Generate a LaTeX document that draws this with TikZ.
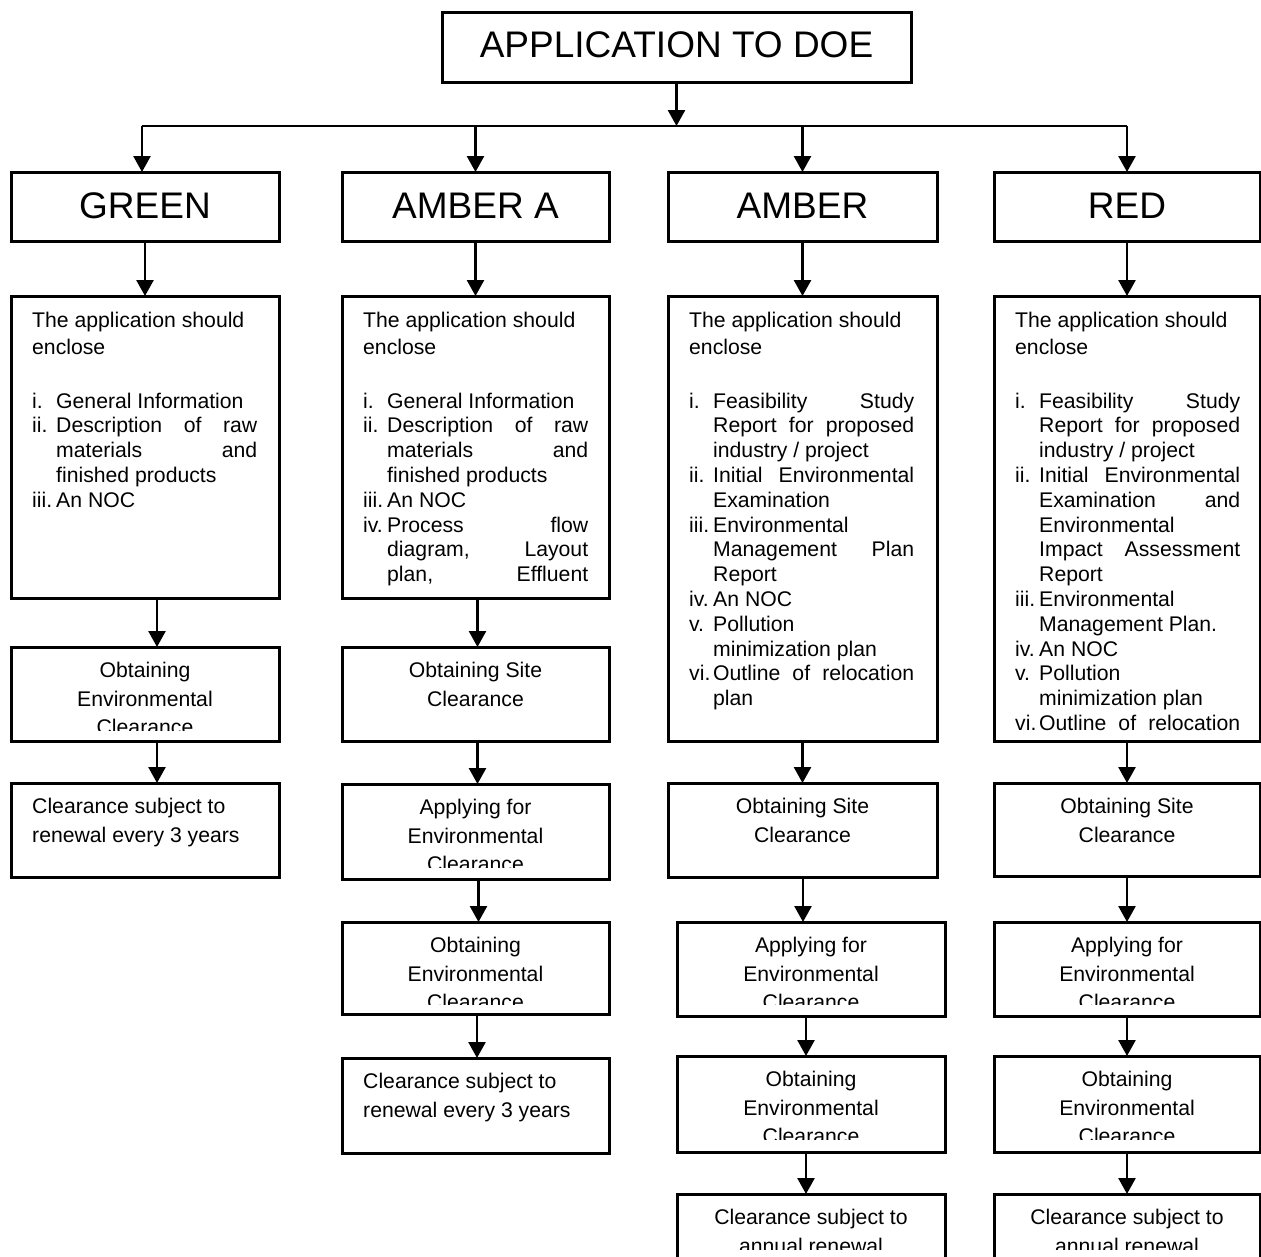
\documentclass[tikz,border=0pt]{standalone}
\usepackage{fontspec}
\setmainfont{Liberation Sans}
\usetikzlibrary{arrows.meta}
\newcommand\sm{\fontsize{21.2}{24.8}\selectfont}
\newcommand\bg{\fontsize{37}{42}\selectfont}
\newcommand\jl[1]{\makebox[201pt][s]{#1}}
\tikzset{
  boxst/.style={draw, line width=3pt, inner sep=0pt, outer sep=0pt},
  arr/.style={line width=2.6pt, -{Triangle[length=16pt,width=17pt]}},
  ln/.style={line width=2.6pt},
  tx/.style={inner sep=0pt, anchor=base west, font=\sm},
  txc/.style={inner sep=0pt, anchor=base, font=\sm},
  big/.style={inner sep=0pt, anchor=base, font=\bg},
}
% box: name, x1, y1, x2, y2
\newcommand\bx[5]{%
  \pgfmathsetmacro\bw{#4-#2}\pgfmathsetmacro\bh{#5-#3}%
  \node[boxst, minimum width=\bw pt, minimum height=\bh pt, anchor=north west] (#1) at (#2,#3) {};}
% list header: prefix, box x1
\newcommand\hd[2]{%
  \node[tx] (#1h1) at (#2+21,327) {The application should};
  \node[tx] (#1h2) at (#2+21,354) {enclose};}
% item with label: name, box x1, line index, label, text
\newcommand\itm[5]{%
  \node[tx] (#1a) at (#2+21,408+#3*24.8) {#4};
  \node[tx] (#1b) at (#2+45,408+#3*24.8) {#5};}
% continuation line: name, box x1, line index, text
\newcommand\cnt[4]{%
  \node[tx] (#1) at (#2+45,408+#3*24.8) {#4};}
% centred lines: name, cx, y1, l1, l2, l3
\newcommand\cthree[6]{%
  \node[txc] (#1t1) at (#2,#3+30.5) {#4};
  \node[txc] (#1t2) at (#2,#3+59) {#5};
  \node[txc] (#1t3) at (#2,#3+87.5) {#6};}
\newcommand\ctwo[5]{%
  \node[txc] (#1t1) at (#2,#3+30.5) {#4};
  \node[txc] (#1t2) at (#2,#3+59) {#5};}
\newcommand\ltwo[5]{%
  \node[tx] (#1t1) at (#2,#3+30.5) {#4};
  \node[tx] (#1t2) at (#2,#3+59) {#5};}
\begin{document}
\begin{tikzpicture}[x=1pt,y=-1pt]
\useasboundingbox (0,0) rectangle (1261,1256);
\clip (0,0) rectangle (1261,1256);
\fill[white] (0,0) rectangle (1261,1256);

% top
\bx{top}{442}{12}{911}{82}
\node[big] (topt) at (676.5,57) {APPLICATION TO DOE};

% row 1
\bx{green}{11}{172}{279}{241}
\node[big] (greent) at (145,218) {GREEN};
\bx{ambera}{342}{172}{609}{241}
\node[big] (amberat) at (475.5,218) {AMBER A};
\bx{amber}{668}{172}{937}{241}
\node[big] (ambert) at (802.5,218) {AMBER};
\bx{red}{994}{172}{1260}{241}
\node[big] (redt) at (1127,218) {RED};

\coordinate (hL) at (142,126);
\coordinate (hR) at (1127,126);
\draw[ln] (hL) -- (hR);
\draw[arr] (top.south) -- (top.south |- hL);
\draw[arr] (hL) -- (hL |- green.north);
\draw[arr] (ambera.north |- hL) -- (ambera.north);
\draw[arr] (amber.north |- hL) -- (amber.north);
\draw[arr] (hR) -- (red.north);

% list boxes
\bx{gl}{11}{296}{279}{598}
\bx{al}{342}{296}{609}{598}
\bx{ml}{668}{296}{937}{741}
\bx{rl}{994}{296}{1260}{741}
\draw[arr] (green.south) -- (gl.north);
\draw[arr] (ambera.south) -- (al.north);
\draw[arr] (amber.south) -- (ml.north);
\draw[arr] (red.south) -- (rl.north);

% GREEN list
\begin{scope}
\clip (11,296) rectangle (279,588);
\hd{g}{11}
\itm{g0}{11}{0}{i.}{General Information}
\itm{g1}{11}{1}{ii.}{\jl{Description of raw}}
\cnt{g2}{11}{2}{\jl{materials and}}
\cnt{g3}{11}{3}{finished products}
\itm{g4}{11}{4}{iii.}{An NOC}
\end{scope}

% AMBER A list
\begin{scope}
\clip (342,296) rectangle (609,588);
\hd{a}{342}
\itm{a0}{342}{0}{i.}{General Information}
\itm{a1}{342}{1}{ii.}{\jl{Description of raw}}
\cnt{a2}{342}{2}{\jl{materials and}}
\cnt{a3}{342}{3}{finished products}
\itm{a4}{342}{4}{iii.}{An NOC}
\itm{a5}{342}{5}{iv.}{\jl{Process flow}}
\cnt{a6}{342}{6}{\jl{diagram, Layout}}
\cnt{a7}{342}{7}{\jl{plan, Effluent}}
\end{scope}

% AMBER list
\begin{scope}
\clip (668,296) rectangle (937,731);
\hd{m}{668}
\itm{m0}{668}{0}{i.}{\jl{Feasibility Study}}
\cnt{m1}{668}{1}{\jl{Report for proposed}}
\cnt{m2}{668}{2}{industry / project}
\itm{m3}{668}{3}{ii.}{\jl{Initial Environmental}}
\cnt{m4}{668}{4}{Examination}
\itm{m5}{668}{5}{iii.}{Environmental}
\cnt{m6}{668}{6}{\jl{Management Plan}}
\cnt{m7}{668}{7}{Report}
\itm{m8}{668}{8}{iv.}{An NOC}
\itm{m9}{668}{9}{v.}{Pollution}
\cnt{m10}{668}{10}{minimization plan}
\itm{m11}{668}{11}{vi.}{\jl{Outline of relocation}}
\cnt{m12}{668}{12}{plan}
\end{scope}

% RED list
\begin{scope}
\clip (994,296) rectangle (1260,733);
\hd{r}{994}
\itm{r0}{994}{0}{i.}{\jl{Feasibility Study}}
\cnt{r1}{994}{1}{\jl{Report for proposed}}
\cnt{r2}{994}{2}{industry / project}
\itm{r3}{994}{3}{ii.}{\jl{Initial Environmental}}
\cnt{r4}{994}{4}{\jl{Examination and}}
\cnt{r5}{994}{5}{Environmental}
\cnt{r6}{994}{6}{\jl{Impact Assessment}}
\cnt{r7}{994}{7}{Report}
\itm{r8}{994}{8}{iii.}{Environmental}
\cnt{r9}{994}{9}{Management Plan.}
\itm{r10}{994}{10}{iv.}{An NOC}
\itm{r11}{994}{11}{v.}{Pollution}
\cnt{r12}{994}{12}{minimization plan}
\itm{r13}{994}{13}{vi.}{\jl{Outline of relocation}}
\end{scope}

% GREEN column
\bx{go}{11}{647}{279}{741}
\bx{gc}{11}{783}{279}{877}
\draw[arr] ([xshift=12pt]gl.south) -- ([xshift=12pt]go.north);
\draw[arr] ([xshift=12pt]go.south) -- ([xshift=12pt]gc.north);
\begin{scope}
\clip (11,647) rectangle (279,730);
\cthree{go}{145}{647}{Obtaining}{Environmental}{Clearance}
\end{scope}
\ltwo{gc}{32}{783}{Clearance subject to}{renewal every 3 years}

% AMBER A column
\bx{as}{342}{647}{609}{741}
\bx{aa}{342}{784}{609}{879}
\bx{ao}{342}{922}{609}{1014}
\bx{ac}{342}{1058}{609}{1153}
\draw[arr] ([xshift=2pt]al.south) -- ([xshift=2pt]as.north);
\draw[arr] ([xshift=2pt]as.south) -- ([xshift=2pt]aa.north);
\draw[arr] ([xshift=3pt]aa.south) -- ([xshift=3pt]ao.north);
\draw[arr] ([xshift=1.5pt]ao.south) -- ([xshift=1.5pt]ac.north);
\ctwo{as}{475.5}{647}{Obtaining Site}{Clearance}
\begin{scope}
\clip (342,784) rectangle (609,867);
\cthree{aa}{475.5}{784}{Applying for}{Environmental}{Clearance}
\end{scope}
\begin{scope}
\clip (342,922) rectangle (609,1004);
\cthree{ao}{475.5}{922}{Obtaining}{Environmental}{Clearance}
\end{scope}
\ltwo{ac}{363}{1058}{Clearance subject to}{renewal every 3 years}

% AMBER column
\bx{ms}{668}{783}{937}{877}
\bx{ma}{677}{922}{945}{1016}
\bx{mo}{677}{1056}{945}{1152}
\bx{mc}{677}{1194}{945}{1300}
\draw[arr] (ml.south) -- (ms.north);
\draw[arr] ([xshift=0.5pt]ms.south) -- ([xshift=0.5pt]ms.south |- ma.north);
\draw[arr] ([xshift=-5pt]ma.south) -- ([xshift=-5pt]mo.north);
\draw[arr] ([xshift=-5pt]mo.south) -- ([xshift=-5pt]mc.north);
\ctwo{ms}{802.5}{783}{Obtaining Site}{Clearance}
\begin{scope}
\clip (677,922) rectangle (945,1004);
\cthree{ma}{811}{922}{Applying for}{Environmental}{Clearance}
\end{scope}
\begin{scope}
\clip (677,1056) rectangle (945,1139);
\cthree{mo}{811}{1056}{Obtaining}{Environmental}{Clearance}
\end{scope}
\begin{scope}
\clip (677,1194) rectangle (945,1249);
\ctwo{mc}{811}{1194}{Clearance subject to}{annual renewal}
\end{scope}

% RED column
\bx{rs}{994}{783}{1260}{876}
\bx{ra}{994}{922}{1260}{1016}
\bx{ro}{994}{1056}{1260}{1152}
\bx{rc}{994}{1194}{1260}{1300}
\draw[arr] (rl.south) -- (rs.north);
\draw[arr] (rs.south) -- (ra.north);
\draw[arr] (ra.south) -- (ro.north);
\draw[arr] (ro.south) -- (rc.north);
\ctwo{rs}{1127}{783}{Obtaining Site}{Clearance}
\begin{scope}
\clip (994,922) rectangle (1260,1004);
\cthree{ra}{1127}{922}{Applying for}{Environmental}{Clearance}
\end{scope}
\begin{scope}
\clip (994,1056) rectangle (1260,1139);
\cthree{ro}{1127}{1056}{Obtaining}{Environmental}{Clearance}
\end{scope}
\begin{scope}
\clip (994,1194) rectangle (1260,1249);
\ctwo{rc}{1127}{1194}{Clearance subject to}{annual renewal}
\end{scope}
\end{tikzpicture}
\end{document}
